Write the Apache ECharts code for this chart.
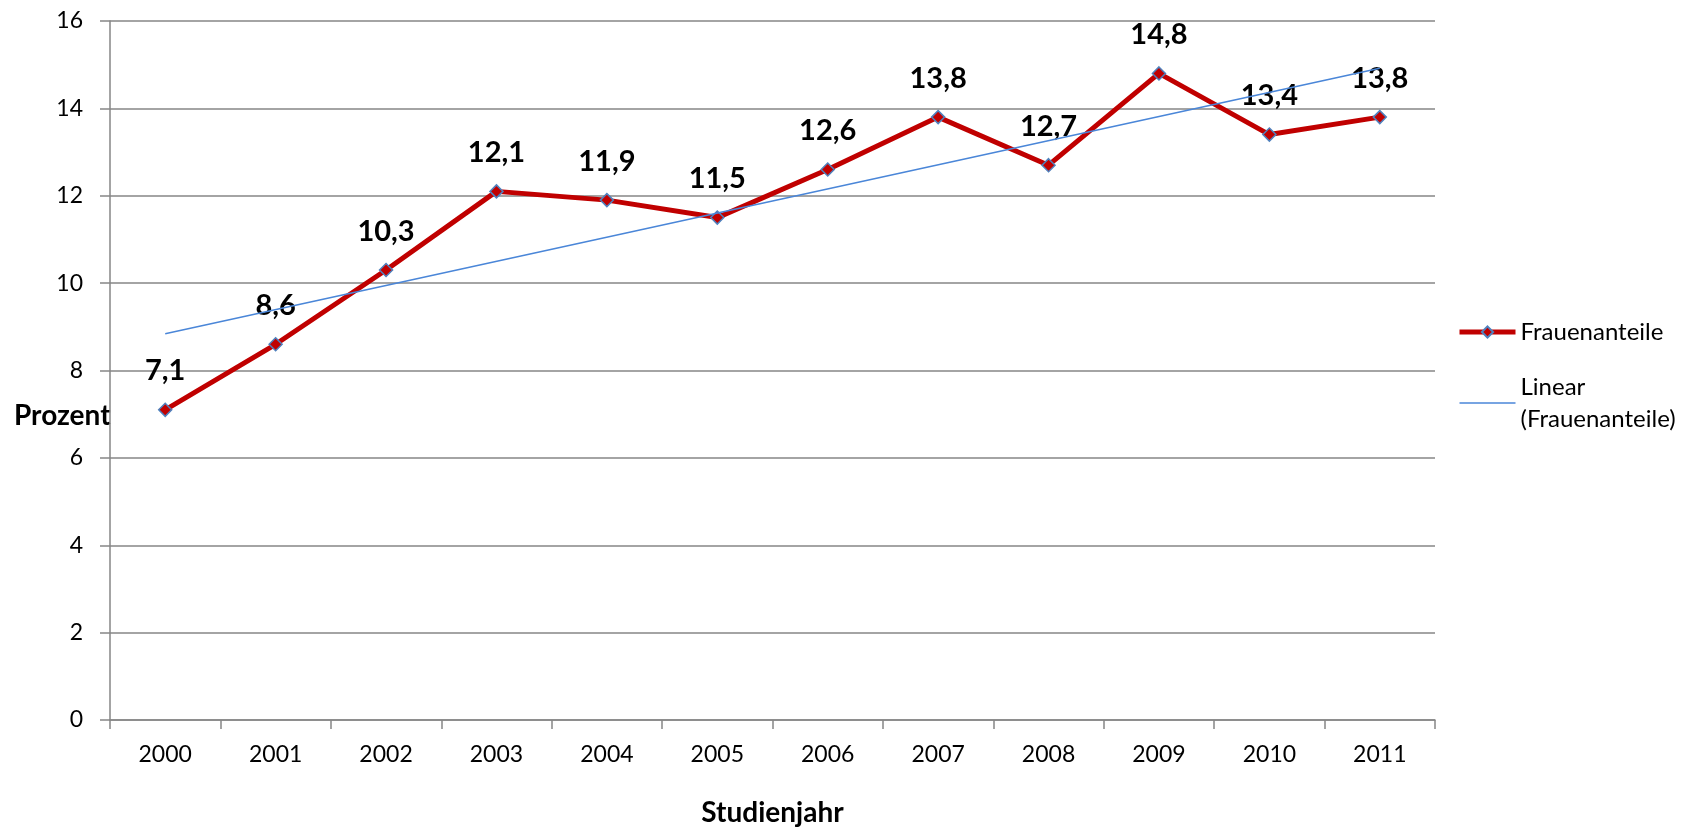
<!DOCTYPE html>
<html>
<head>
<meta charset="utf-8">
<script src="https://cdn.jsdelivr.net/npm/echarts@6/dist/echarts.min.js"></script>
<style>
  html, body { margin: 0; padding: 0; background: #fff; }
  #chart { width: 1695px; height: 830px; }
</style>
</head>
<body>
<div id="chart"></div>
<script>
// data
var years = ['2000', '2001', '2002', '2003', '2004', '2005', '2006', '2007', '2008', '2009', '2010', '2011'];
var frauenanteile = [7.1, 8.6, 10.3, 12.1, 11.9, 11.5, 12.6, 13.8, 12.7, 14.8, 13.4, 13.8];
// end points of the linear trend line as drawn
var trendYears = ['2000', '2011'];
var trendValues = [8.84, 14.92];
var yTicks = { min: 0, max: 16, step: 2 };

var chartDom = document.getElementById('chart');
var myChart = echarts.init(chartDom);

var font = 'Lato, "Open Sans", sans-serif';
var gridGray = '#868686';
var red = '#C00000';
var blue = '#4A86D8';

var trendData = trendYears.map(function (y, i) { return [y, trendValues[i]]; });

var option = {
  backgroundColor: '#ffffff',
  animation: false,
  textStyle: { fontFamily: font },
  grid: { left: 110, right: 260, top: 21, bottom: 110, outerBoundsMode: 'none', containLabel: false },
  legend: {
    orient: 'vertical',
    left: 1457,
    top: 316,
    padding: 0,
    itemWidth: 56,
    itemHeight: 14,
    itemGap: 23,
    textStyle: { fontSize: 24, color: '#000', fontFamily: font, lineHeight: 32 },
    formatter: function (name) {
      return name === 'Linear (Frauenanteile)' ? 'Linear\n(Frauenanteile)' : name;
    },
    data: [
      { name: 'Frauenanteile', lineStyle: { width: 5, color: red } },
      { name: 'Linear (Frauenanteile)', itemStyle: { opacity: 0 }, lineStyle: { width: 1.5, color: blue } }
    ]
  },
  xAxis: {
    type: 'category',
    data: years,
    boundaryGap: true,
    name: 'Studienjahr',
    nameLocation: 'middle',
    nameGap: 79,
    nameTextStyle: { fontSize: 28, fontWeight: 'bold', color: '#000', fontFamily: font },
    axisLine: { lineStyle: { color: gridGray, width: 1.5 } },
    axisTick: { show: true, length: 9, lineStyle: { color: gridGray, width: 1.5 } },
    axisLabel: { fontSize: 23, color: '#000', margin: 23, fontFamily: font }
  },
  yAxis: {
    type: 'value',
    min: yTicks.min,
    max: yTicks.max,
    interval: yTicks.step,
    axisLine: { show: true, lineStyle: { color: gridGray, width: 1.5 } },
    axisTick: { show: true, length: 10, lineStyle: { color: gridGray, width: 1.5 } },
    axisLabel: { fontSize: 23, color: '#000', margin: 27, fontFamily: font },
    splitLine: { lineStyle: { color: gridGray, width: 1.5 } }
  },
  graphic: [
    {
      type: 'text',
      left: 14,
      top: 402,
      style: { text: 'Prozent', fontSize: 28, fontWeight: 'bold', fontFamily: font, fill: '#000' }
    }
  ],
  series: [
    {
      name: 'Frauenanteile',
      type: 'line',
      data: frauenanteile,
      symbol: 'diamond',
      symbolSize: 13,
      z: 3,
      lineStyle: { color: red, width: 5 },
      itemStyle: { color: red, borderColor: '#4F81BD', borderWidth: 1.5 },
      label: {
        show: true,
        position: 'top',
        distance: 17,
        fontSize: 29,
        fontWeight: 'bold',
        color: '#000',
        fontFamily: font,
        formatter: function (p) { return String(p.value).replace('.', ','); }
      }
    },
    {
      name: 'Linear (Frauenanteile)',
      type: 'line',
      data: trendData,
      symbol: 'none',
      z: 4,
      lineStyle: { color: blue, width: 1.5 },
      itemStyle: { color: blue }
    }
  ]
};

option && myChart.setOption(option);
</script>
</body>
</html>
